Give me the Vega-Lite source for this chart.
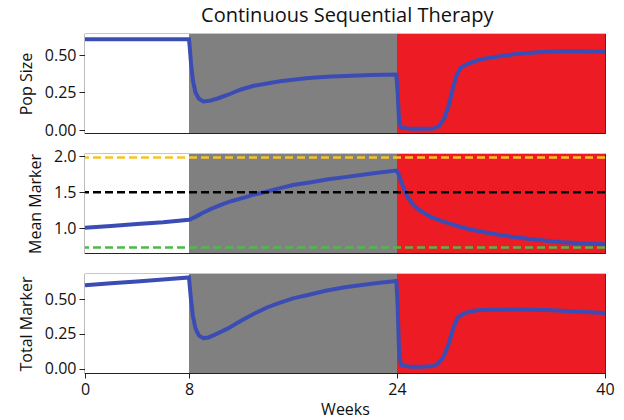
{
  "$schema": "https://vega.github.io/schema/vega-lite/v6.json",
  "padding": {"left": 17, "top": 5, "right": 10, "bottom": 0},
  "bounds": "flush",
  "title": {"text": "Continuous Sequential Therapy", "fontSize": 20, "fontWeight": "normal", "font": "Open Sans", "color": "#111", "anchor": "middle", "offset": 5, "dx": 31},
  "spacing": 21,
  "datasets": {
    "phases": [
      {"start": 0, "end": 8, "phase": "off"},
      {"start": 8, "end": 24, "phase": "drug1"},
      {"start": 24, "end": 40, "phase": "drug2"}
    ],
    "pop": [
      {"week": 0, "size": 0.605}, {"week": 8, "size": 0.605}, {"week": 8.05, "size": 0.56}, {"week": 8.15, "size": 0.45},
      {"week": 8.3, "size": 0.33}, {"week": 8.5, "size": 0.25}, {"week": 8.75, "size": 0.21}, {"week": 9.1, "size": 0.19},
      {"week": 9.6, "size": 0.195}, {"week": 10.2, "size": 0.21}, {"week": 11, "size": 0.235}, {"week": 12, "size": 0.27},
      {"week": 13, "size": 0.295}, {"week": 14, "size": 0.31}, {"week": 15, "size": 0.325}, {"week": 16, "size": 0.335},
      {"week": 17, "size": 0.345}, {"week": 18, "size": 0.352}, {"week": 19, "size": 0.357}, {"week": 20, "size": 0.36},
      {"week": 21, "size": 0.363}, {"week": 22, "size": 0.366}, {"week": 23, "size": 0.368}, {"week": 23.95, "size": 0.37},
      {"week": 24.05, "size": 0.25}, {"week": 24.15, "size": 0.08}, {"week": 24.3, "size": 0.015}, {"week": 25, "size": 0.008},
      {"week": 26, "size": 0.008}, {"week": 26.8, "size": 0.01}, {"week": 27.2, "size": 0.025}, {"week": 27.6, "size": 0.07},
      {"week": 28.0, "size": 0.17}, {"week": 28.3, "size": 0.28}, {"week": 28.6, "size": 0.37}, {"week": 28.9, "size": 0.415},
      {"week": 29.4, "size": 0.44}, {"week": 30.2, "size": 0.465}, {"week": 31, "size": 0.48}, {"week": 31.8, "size": 0.49},
      {"week": 33, "size": 0.505}, {"week": 34.3, "size": 0.515}, {"week": 35.5, "size": 0.522}, {"week": 36.9, "size": 0.527},
      {"week": 38.5, "size": 0.525}, {"week": 40, "size": 0.522}
    ],
    "mean": [
      {"week": 0, "marker": 1.01}, {"week": 2, "marker": 1.035}, {"week": 4, "marker": 1.06}, {"week": 6, "marker": 1.085},
      {"week": 8, "marker": 1.12}, {"week": 8.5, "marker": 1.16}, {"week": 9, "marker": 1.21}, {"week": 9.7, "marker": 1.27},
      {"week": 10.5, "marker": 1.33}, {"week": 11.3, "marker": 1.38}, {"week": 12.3, "marker": 1.43}, {"week": 13, "marker": 1.47},
      {"week": 13.8, "marker": 1.5}, {"week": 14.85, "marker": 1.55}, {"week": 16, "marker": 1.6}, {"week": 17.4, "marker": 1.64},
      {"week": 18.7, "marker": 1.68}, {"week": 20, "marker": 1.71}, {"week": 21.2, "marker": 1.74}, {"week": 22.5, "marker": 1.77},
      {"week": 23.95, "marker": 1.8}, {"week": 24.1, "marker": 1.76}, {"week": 24.3, "marker": 1.66}, {"week": 24.6, "marker": 1.52},
      {"week": 24.85, "marker": 1.42}, {"week": 25.2, "marker": 1.34}, {"week": 25.6, "marker": 1.27}, {"week": 26.1, "marker": 1.21},
      {"week": 26.6, "marker": 1.16}, {"week": 27.3, "marker": 1.11}, {"week": 28, "marker": 1.07}, {"week": 29.1, "marker": 1.01},
      {"week": 30.3, "marker": 0.96}, {"week": 31.6, "marker": 0.92}, {"week": 33, "marker": 0.88}, {"week": 34.2, "marker": 0.855},
      {"week": 35.5, "marker": 0.83}, {"week": 36.7, "marker": 0.81}, {"week": 38.3, "marker": 0.795}, {"week": 40, "marker": 0.78}
    ],
    "thresholds": [
      {"level": 1.98, "kind": "upper"},
      {"level": 1.5, "kind": "middle"},
      {"level": 0.735, "kind": "lower"}
    ],
    "total": [
      {"week": 0, "marker": 0.6}, {"week": 2, "marker": 0.613}, {"week": 4, "marker": 0.627}, {"week": 6, "marker": 0.64},
      {"week": 8, "marker": 0.655}, {"week": 8.05, "marker": 0.6}, {"week": 8.15, "marker": 0.5}, {"week": 8.3, "marker": 0.38},
      {"week": 8.5, "marker": 0.29}, {"week": 8.75, "marker": 0.24}, {"week": 9.1, "marker": 0.22}, {"week": 9.5, "marker": 0.225},
      {"week": 10, "marker": 0.245}, {"week": 11, "marker": 0.29}, {"week": 12, "marker": 0.345}, {"week": 13, "marker": 0.395},
      {"week": 14, "marker": 0.44}, {"week": 14.85, "marker": 0.47}, {"week": 16, "marker": 0.505}, {"week": 17.4, "marker": 0.535},
      {"week": 18.5, "marker": 0.56}, {"week": 20, "marker": 0.585}, {"week": 21, "marker": 0.598}, {"week": 22.5, "marker": 0.615},
      {"week": 23.95, "marker": 0.63}, {"week": 24.05, "marker": 0.45}, {"week": 24.15, "marker": 0.15}, {"week": 24.3, "marker": 0.025},
      {"week": 25, "marker": 0.015}, {"week": 26, "marker": 0.015}, {"week": 26.8, "marker": 0.02}, {"week": 27.2, "marker": 0.04},
      {"week": 27.6, "marker": 0.09}, {"week": 27.9, "marker": 0.16}, {"week": 28.2, "marker": 0.25}, {"week": 28.4, "marker": 0.31},
      {"week": 28.7, "marker": 0.37}, {"week": 29.2, "marker": 0.4}, {"week": 30, "marker": 0.418}, {"week": 31, "marker": 0.424},
      {"week": 33.5, "marker": 0.426}, {"week": 36, "marker": 0.42}, {"week": 38, "marker": 0.41}, {"week": 40, "marker": 0.4}
    ]
  },
  "vconcat": [
    {
      "width": 520, "height": 99,
      "layer": [
        {
          "data": {"name": "phases"},
          "mark": {"type": "rect"},
          "encoding": {
            "x": {"field": "start", "type": "quantitative", "scale": {"domain": [0, 40], "nice": false}, "axis": null},
            "x2": {"field": "end"},
            "color": {"field": "phase", "type": "nominal", "scale": {"domain": ["off", "drug1", "drug2"], "range": ["#ffffff", "#808080", "#ed1c24"]}, "legend": null}
          }
        },
        {
          "data": {"name": "pop"},
          "mark": {"type": "line", "color": "#3b4db5", "strokeWidth": 4},
          "encoding": {
            "x": {"field": "week", "type": "quantitative"},
            "y": {"field": "size", "type": "quantitative", "title": "Pop Size", "scale": {"domain": [-0.02, 0.64], "nice": false, "zero": false}, "axis": {"values": [0, 0.25, 0.5], "format": ".2f"}}
          }
        }
      ]
    },
    {
      "width": 520, "height": 99,
      "layer": [
        {
          "data": {"name": "phases"},
          "mark": {"type": "rect"},
          "encoding": {
            "x": {"field": "start", "type": "quantitative", "scale": {"domain": [0, 40], "nice": false}, "axis": null},
            "x2": {"field": "end"},
            "color": {"field": "phase", "type": "nominal", "scale": {"domain": ["off", "drug1", "drug2"], "range": ["#ffffff", "#808080", "#ed1c24"]}, "legend": null}
          }
        },
        {
          "data": {"name": "mean"},
          "mark": {"type": "line", "color": "#3b4db5", "strokeWidth": 4},
          "encoding": {
            "x": {"field": "week", "type": "quantitative"},
            "y": {"field": "marker", "type": "quantitative", "title": "Mean Marker", "scale": {"domain": [0.66, 2.03], "nice": false, "zero": false}, "axis": {"values": [1, 1.5, 2], "format": ".1f"}}
          }
        },
        {
          "data": {"name": "thresholds"},
          "mark": {"type": "rule", "strokeWidth": 2.5, "strokeDash": [8, 4]},
          "encoding": {
            "y": {"field": "level", "type": "quantitative"},
            "stroke": {"field": "kind", "type": "nominal", "scale": {"domain": ["upper", "middle", "lower"], "range": ["#f6c324", "#000000", "#52b848"]}, "legend": null}
          }
        }
      ]
    },
    {
      "width": 520, "height": 99,
      "layer": [
        {
          "data": {"name": "phases"},
          "mark": {"type": "rect"},
          "encoding": {
            "x": {"field": "start", "type": "quantitative", "scale": {"domain": [0, 40], "nice": false}, "title": "Weeks", "axis": {"values": [0, 8, 24, 40], "labelFlush": false, "tickSize": 5, "labelPadding": 3, "titlePadding": 4}},
            "x2": {"field": "end"},
            "color": {"field": "phase", "type": "nominal", "scale": {"domain": ["off", "drug1", "drug2"], "range": ["#ffffff", "#808080", "#ed1c24"]}, "legend": null}
          }
        },
        {
          "data": {"name": "total"},
          "mark": {"type": "line", "color": "#3b4db5", "strokeWidth": 4},
          "encoding": {
            "x": {"field": "week", "type": "quantitative"},
            "y": {"field": "marker", "type": "quantitative", "title": "Total Marker", "scale": {"domain": [-0.03, 0.68], "nice": false, "zero": false}, "axis": {"values": [0, 0.25, 0.5], "format": ".2f"}}
          }
        }
      ]
    }
  ],
  "config": {
    "font": "Open Sans",
    "view": {"stroke": "#222222", "strokeWidth": 1.2},
    "axis": {
      "grid": false,
      "labelFont": "Open Sans", "labelFontSize": 16, "labelColor": "#111",
      "titleFont": "Open Sans", "titleFontSize": 16, "titleFontWeight": "normal", "titleColor": "#111",
      "tickColor": "#222", "domainColor": "#222", "tickSize": 6, "labelPadding": 3, "titlePadding": 10
    }
  }
}
